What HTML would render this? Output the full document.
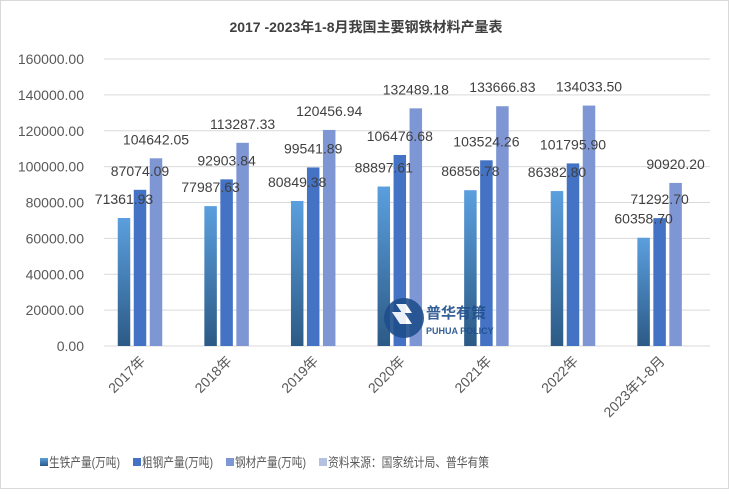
<!DOCTYPE html>
<html><head><meta charset="utf-8"><style>
body{margin:0;background:#fff}
svg text{font-family:"Liberation Sans","Noto Sans CJK SC",sans-serif}
</style></head><body>
<svg id="c" width="729" height="489" xmlns="http://www.w3.org/2000/svg">
<defs>
<linearGradient id="g1" x1="0" y1="0" x2="0" y2="1"><stop offset="0" stop-color="#5b9fde"/><stop offset="1" stop-color="#2c5a86"/></linearGradient>
</defs>
<rect x="0.5" y="0.5" width="728" height="488" fill="#fff" stroke="#d9d9d9"/>
<text x="366" y="32" text-anchor="middle" font-size="14" font-weight="bold" fill="#404040">2017 -2023年1-8月我国主要钢铁材料产量表</text>
<g id="grid"></g><g id="bars"></g><g id="labels"></g>
<g opacity="0.9">
<circle cx="404" cy="318" r="20" fill="#1f4e8c"/>
<path d="M392 312 l12 0 l8 12 l-12 0z M396 304 l10 0 l6 9 l-10 0z" fill="#fff"/>
<text x="426" y="318" font-size="15" font-weight="bold" fill="#1f4e8c">普华有策</text>
<text x="426" y="334" font-size="9" font-weight="bold" fill="#1f4e8c">PUHUA POLICY</text>
</g>
<g id="legend" font-size="13" fill="#595959">
<rect x="40" y="458" width="8" height="8" fill="url(#g1)"/>
<text x="49" y="467" textLength="71" lengthAdjust="spacingAndGlyphs">生铁产量(万吨)</text>
<rect x="133" y="458" width="8" height="8" fill="#4472c4"/>
<text x="142" y="467" textLength="71" lengthAdjust="spacingAndGlyphs">粗钢产量(万吨)</text>
<rect x="226" y="458" width="8" height="8" fill="#7f96d4"/>
<text x="235" y="467" textLength="71" lengthAdjust="spacingAndGlyphs">钢材产量(万吨)</text>
<rect x="319" y="458" width="8" height="8" fill="#b4c2e0"/>
<text x="328" y="467" textLength="161" lengthAdjust="spacingAndGlyphs">资料来源：国家统计局、普华有策</text>
</g>
</svg>
<script>
const categories=["2017年","2018年","2019年","2020年","2021年","2022年","2023年1-8月"];
const pigIron=[71361.93,77987.63,80849.38,88897.61,86856.78,86382.80,60358.70];
const crudeSteel=[87074.09,92903.84,99541.89,106476.68,103524.26,101795.90,71292.70];
const steelProducts=[104642.05,113287.33,120456.94,132489.18,133666.83,134033.50,90920.20];
const yTicks=[0,20000,40000,60000,80000,100000,120000,140000,160000];
const NS="http://www.w3.org/2000/svg";
const y0=346,yTop=59,yMax=160000,xL=104,xR=710,groupW=86.6,firstC=140;
const y=v=>y0-(v/yMax)*(y0-yTop);
const xc=i=>firstC+i*groupW;
function mk(tag,attrs,parent,txt){const e=document.createElementNS(NS,tag);for(const k in attrs)e.setAttribute(k,attrs[k]);if(txt!==undefined)e.textContent=txt;parent.appendChild(e);return e;}
const grid=document.getElementById('grid'),bars=document.getElementById('bars'),labels=document.getElementById('labels');
yTicks.forEach(t=>{
  const l=mk('line',{x1:xL,x2:xR,y1:y(t),y2:y(t),stroke:'#d9d9d9'},grid);
  
  
  const tx=mk('text',{x:84,y:y(t)+5,'text-anchor':'end','font-size':14,fill:'#595959'},grid,t.toFixed(2));
  
  
});
const series=[pigIron,crudeSteel,steelProducts],fills=['url(#g1)','#4472c4','#7f96d4'],bw=12.5,gap=3.5;
categories.forEach((c,i)=>{
  series.forEach((s,j)=>{
    const cx=xc(i)+(j-1)*(bw+gap);
    const r=mk('rect',{x:cx-bw/2,y:y(s[i]),width:bw,height:y0-y(s[i]),fill:fills[j]},bars);
    
    
    const t=mk('text',{x:cx,y:y(s[i])-14,'text-anchor':'middle','font-size':14,fill:'#404040'},labels,s[i].toFixed(2));
    
    
  });
  const xl=mk('text',{x:0,y:0,'text-anchor':'end','font-size':14,fill:'#595959',transform:`translate(${xc(i)+6},${y0+16}) rotate(-45)`},grid,c);
  
  
});
</script>
</body></html>
